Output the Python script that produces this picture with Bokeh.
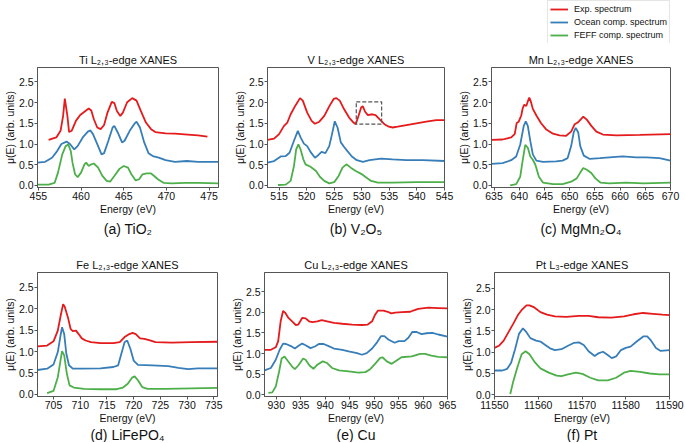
from bokeh.plotting import figure
from bokeh.layouts import column, row
from bokeh.models import Range1d, FixedTicker, PrintfTickFormatter, Title, Legend, LegendItem
from bokeh.embed import file_html
from bokeh.resources import INLINE

# ---------------- data ----------------
series_names = ["Exp. spectrum", "Ocean comp. spectrum", "FEFF comp. spectrum"]
series_colors = ["#e41a1c", "#377eb8", "#4daf4a"]
y_ticks = [0.0, 0.5, 1.0, 1.5, 2.0, 2.5]

titles = ["Ti L\u2082,\u2083-edge XANES", "V L\u2082,\u2083-edge XANES", "Mn L\u2082,\u2083-edge XANES",
          "Fe L\u2082,\u2083-edge XANES", "Cu L\u2082,\u2083-edge XANES", "Pt L\u2083-edge XANES"]
captions = ["(a) TiO\u2082", "(b) V\u2082O\u2085", "(c) MgMn\u2082O\u2084",
            "(d) LiFePO\u2084", "(e) Cu", "(f) Pt"]

ti_ticks = [455, 460, 465, 470, 475]
v_ticks = [515, 520, 525, 530, 535, 540, 545]
mn_ticks = [635, 640, 645, 650, 655, 660, 665, 670]
fe_ticks = [705, 710, 715, 720, 725, 730, 735]
cu_ticks = [930, 935, 940, 945, 950, 955, 960, 965]
pt_ticks = [11550, 11560, 11570, 11580, 11590]

ti_xlim = [454.9, 476.1]
v_xlim = [512.9, 545.0]
mn_xlim = [634.5, 670.0]
fe_xlim = [702.0, 735.7]
cu_xlim = [927.6, 965.0]
pt_xlim = [11550.0, 11590.0]
ylim_abc = [-0.05, 2.85]
ylim_d = [-0.05, 2.85]
ylim_e = [-0.04, 2.96]
ylim_f = [-0.04, 2.87]

# Ti
ti_exp_x = [456.2,457.1,457.6,457.9,458.1,458.4,458.6,458.9,459.4,459.9,460.4,460.9,461.2,461.5,461.9,462.3,462.7,463.1,463.6,463.9,464.2,464.6,464.9,465.4,466.0,466.5,467.0,467.6,468.2,468.7,469.9,471.0,472.5,473.7,474.8]
ti_exp_y = [1.10,1.16,1.32,1.68,2.10,1.68,1.29,1.32,1.56,1.70,1.78,1.86,1.81,1.60,1.40,1.36,1.46,1.76,2.02,1.99,1.80,1.68,1.76,2.01,2.11,2.05,1.80,1.52,1.36,1.29,1.26,1.25,1.23,1.21,1.18]
ti_ocean_x = [454.9,455.8,456.6,457.2,457.7,458.3,458.7,459.2,459.6,460.2,460.8,461.1,461.4,461.9,462.4,462.7,463.2,463.7,463.9,464.3,464.8,465.1,465.7,466.3,466.5,466.9,467.4,467.9,468.4,469.1,469.9,471.0,472.4,473.7,476.1]
ti_ocean_y = [0.55,0.57,0.67,0.83,1.00,1.06,1.00,0.87,0.95,1.16,1.30,1.33,1.24,1.00,0.75,0.78,1.08,1.40,1.44,1.28,1.04,1.08,1.32,1.50,1.54,1.40,1.04,0.78,0.71,0.67,0.61,0.57,0.59,0.57,0.57]
ti_feff_x = [454.9,456.2,456.9,457.3,457.8,458.2,458.5,458.8,459.0,459.3,459.6,460.0,460.4,460.6,460.9,461.2,461.5,462.0,462.5,463.0,463.4,463.9,464.5,465.0,465.5,465.9,466.4,466.8,467.2,467.7,468.2,468.5,469.0,469.7,470.6,472.2,473.7,476.1]
ti_feff_y = [0.02,0.02,0.06,0.31,0.75,0.95,0.99,0.83,0.55,0.27,0.20,0.31,0.51,0.55,0.47,0.51,0.53,0.43,0.23,0.11,0.09,0.23,0.40,0.47,0.43,0.27,0.12,0.15,0.27,0.29,0.29,0.24,0.15,0.06,0.05,0.06,0.06,0.05]

# V
v_exp_x = [512.9,514.1,515.0,515.9,516.5,517.1,518.0,518.8,519.3,520.1,520.9,521.5,522.3,523.2,524.1,524.9,525.4,526.0,526.8,527.7,528.5,528.9,529.4,529.9,530.2,530.6,531.1,531.9,532.5,533.2,534.1,534.9,535.6,536.5,538.1,539.9,541.7,543.5,545.0]
v_exp_y = [1.10,1.13,1.24,1.44,1.52,1.72,1.94,2.11,2.05,1.76,1.56,1.49,1.54,1.68,1.91,2.09,2.11,2.05,1.84,1.64,1.52,1.48,1.68,1.89,1.91,1.78,1.70,1.72,1.70,1.60,1.48,1.42,1.40,1.42,1.46,1.50,1.54,1.58,1.58]
v_ocean_x = [512.9,514.1,515.3,516.2,516.9,517.7,518.4,518.9,519.5,520.1,520.7,521.5,522.1,522.7,523.4,524.1,524.6,525.1,525.6,526.2,526.8,527.4,528.2,529.1,530.2,531.4,533.5,535.6,538.1,541.1,545.0]
v_ocean_y = [0.55,0.59,0.70,0.71,0.79,1.08,1.32,1.16,1.01,0.95,0.81,0.67,0.73,0.81,0.78,0.95,1.24,1.55,1.40,1.04,0.93,0.83,0.70,0.61,0.57,0.61,0.65,0.63,0.61,0.61,0.59]
v_feff_x = [514.8,516.2,517.1,517.7,518.1,518.5,518.9,519.4,519.8,520.7,521.7,522.4,523.2,524.1,525.0,525.8,526.5,527.2,528.0,528.9,529.9,530.8,531.7,532.9,535.6,539.9,545.0]
v_feff_y = [0.01,0.02,0.11,0.47,0.87,0.99,0.87,0.63,0.51,0.45,0.35,0.21,0.11,0.05,0.08,0.23,0.43,0.51,0.43,0.35,0.28,0.19,0.11,0.07,0.07,0.08,0.08]
v_box_x = [529.0, 533.6]
v_box_y = [1.48, 2.02]

# Mn
mn_exp_x = [634.5,636.7,638.4,639.1,639.5,639.9,640.4,640.7,641.0,641.4,641.7,642.0,642.3,642.7,643.4,644.3,645.3,646.7,648.0,649.3,650.3,651.0,651.6,652.3,652.7,653.4,654.3,655.3,656.6,659.3,663.9,670.0]
mn_exp_y = [1.10,1.11,1.16,1.24,1.51,1.54,1.69,1.87,1.95,1.92,2.03,2.12,2.03,1.85,1.69,1.51,1.36,1.25,1.21,1.20,1.30,1.48,1.52,1.61,1.66,1.59,1.44,1.30,1.23,1.21,1.22,1.24]
mn_ocean_x = [634.5,636.7,638.4,639.4,640.2,640.9,641.3,641.7,642.2,642.7,643.4,644.7,647.3,648.6,649.6,650.3,650.8,651.2,651.7,652.1,652.8,654.0,656.0,657.9,660.5,663.2,665.2,667.8,670.0]
mn_ocean_y = [0.52,0.54,0.61,0.70,0.99,1.44,1.55,1.44,1.07,0.75,0.60,0.57,0.58,0.60,0.66,0.95,1.28,1.39,1.28,0.95,0.72,0.64,0.66,0.68,0.70,0.68,0.68,0.66,0.60]
mn_feff_x = [638.2,639.4,640.2,640.7,641.2,641.7,642.2,642.7,643.2,643.9,644.7,646.7,648.6,650.3,651.4,652.1,652.7,653.4,654.3,655.1,656.1,657.9,661.2,664.6,670.0]
mn_feff_y = [0.00,0.03,0.21,0.62,0.98,0.91,0.70,0.62,0.50,0.21,0.07,0.03,0.03,0.09,0.17,0.31,0.42,0.38,0.30,0.17,0.07,0.05,0.07,0.05,0.07]

# Fe
fe_exp_x = [702.0,703.8,705.0,705.8,706.4,706.8,707.1,707.4,707.7,708.2,708.6,709.2,709.7,710.3,711.0,712.0,713.8,716.2,717.4,718.3,719.2,719.8,720.4,721.2,722.0,722.9,724.1,727.1,730.8,735.7]
fe_exp_y = [1.12,1.14,1.24,1.49,1.88,2.11,2.05,1.92,1.80,1.53,1.48,1.49,1.41,1.31,1.26,1.22,1.20,1.20,1.22,1.34,1.41,1.44,1.41,1.31,1.30,1.27,1.22,1.21,1.22,1.23]
fe_ocean_x = [702.0,703.8,705.0,705.8,706.3,706.6,707.0,707.4,707.9,708.6,710.1,713.8,716.2,717.1,717.7,718.3,718.8,719.4,720.0,720.8,723.5,726.5,728.4,730.2,732.0,735.7]
fe_ocean_y = [0.57,0.60,0.70,0.99,1.37,1.57,1.41,0.95,0.68,0.60,0.60,0.61,0.64,0.68,0.95,1.22,1.26,1.06,0.79,0.69,0.68,0.66,0.62,0.59,0.61,0.61]
fe_feff_x = [703.8,705.0,705.8,706.3,706.6,707.0,707.5,708.0,708.8,710.7,713.8,716.8,718.0,718.9,719.7,720.2,720.8,721.6,722.6,725.9,730.8,735.7]
fe_feff_y = [0.03,0.08,0.40,0.79,1.01,0.91,0.48,0.21,0.16,0.13,0.12,0.12,0.16,0.25,0.39,0.42,0.33,0.17,0.13,0.13,0.14,0.15]

# Cu
cu_exp_x = [927.6,928.9,929.9,930.4,930.9,931.4,931.8,932.5,933.3,934.0,934.5,935.0,935.3,936.0,936.7,937.4,938.4,939.3,940.4,941.8,943.5,945.5,947.5,948.7,949.6,950.2,950.8,951.9,952.8,953.5,954.3,955.7,957.4,958.0,959.0,961.1,963.1,965.0]
cu_exp_y = [1.09,1.09,1.15,1.30,1.78,2.03,1.99,1.86,1.77,1.69,1.70,1.80,1.86,1.85,1.78,1.76,1.78,1.81,1.78,1.74,1.72,1.70,1.69,1.70,1.78,1.94,2.04,2.04,2.01,1.97,1.99,2.00,2.01,2.04,2.08,2.11,2.10,2.09]
cu_ocean_x = [927.6,928.9,929.9,930.7,931.4,932.0,933.0,933.8,934.5,935.3,936.0,937.0,937.9,938.7,939.7,940.7,941.8,943.5,944.8,946.5,947.5,948.5,949.6,950.6,951.4,952.1,952.9,954.2,955.0,956.2,957.0,957.8,958.7,959.7,960.7,961.9,963.1,965.0]
cu_ocean_y = [0.59,0.65,0.85,1.09,1.24,1.23,1.18,1.12,1.18,1.24,1.20,1.13,1.17,1.23,1.23,1.18,1.12,1.09,1.05,1.01,0.97,1.01,1.12,1.27,1.42,1.42,1.34,1.26,1.30,1.30,1.38,1.52,1.52,1.47,1.49,1.50,1.46,1.41]
cu_feff_x = [928.4,929.2,929.9,930.6,931.1,931.7,932.3,933.2,933.8,934.5,935.5,936.0,936.8,937.6,938.4,939.5,940.4,941.4,942.8,944.8,946.8,948.2,949.2,950.2,951.2,951.7,952.6,953.6,954.6,955.6,957.7,959.4,960.4,961.7,963.1,965.0]
cu_feff_y = [0.05,0.06,0.20,0.57,0.88,0.93,0.83,0.69,0.62,0.71,0.88,0.85,0.71,0.63,0.73,0.81,0.77,0.65,0.59,0.57,0.54,0.55,0.62,0.75,0.89,0.91,0.81,0.75,0.83,0.91,0.93,0.99,0.99,0.95,0.92,0.91]

# Pt
pt_exp_x = [11550.0,11551.0,11552.1,11553.2,11554.3,11555.4,11556.3,11557.3,11558.0,11559.1,11560.5,11562.0,11563.8,11566.4,11569.3,11571.5,11573.7,11576.7,11579.6,11581.8,11584.0,11586.2,11588.4,11590.0]
pt_exp_y = [1.10,1.15,1.27,1.47,1.67,1.88,2.00,2.10,2.10,2.05,1.94,1.88,1.84,1.83,1.85,1.85,1.82,1.81,1.84,1.89,1.92,1.90,1.88,1.87]
pt_ocean_x = [11550.0,11551.8,11552.9,11553.8,11554.7,11555.6,11556.5,11557.3,11558.2,11559.5,11560.5,11561.6,11562.7,11563.8,11565.3,11566.8,11568.2,11569.3,11570.4,11571.5,11572.9,11573.7,11574.8,11575.8,11576.8,11577.8,11578.9,11580.0,11581.1,11582.5,11584.0,11584.9,11585.8,11586.9,11588.0,11590.0]
pt_ocean_y = [0.57,0.57,0.61,0.75,1.07,1.43,1.56,1.47,1.33,1.27,1.25,1.17,1.09,1.05,1.07,1.15,1.22,1.23,1.17,1.02,0.91,0.97,1.01,0.94,0.86,0.90,1.05,1.10,1.13,1.25,1.37,1.37,1.27,1.10,1.03,1.05]
pt_feff_x = [11553.6,11554.3,11555.3,11556.2,11557.1,11558.0,11559.1,11560.5,11562.4,11564.2,11565.3,11566.8,11568.6,11570.1,11571.9,11573.7,11575.9,11577.8,11579.6,11581.1,11583.3,11585.5,11587.7,11590.0]
pt_feff_y = [0.02,0.32,0.67,0.95,1.02,0.95,0.78,0.62,0.52,0.45,0.44,0.48,0.52,0.49,0.40,0.34,0.34,0.40,0.52,0.56,0.54,0.50,0.48,0.48]

# ---------------- figure building ----------------
FONT = "Liberation Sans"
FRAME = "#555555"
LW = 1.8


def make_panel(idx, xlim, ylim, xticks, curves, width, height, left, right, top, bottom, cap_standoff):
    p = figure(width=width, height=height, x_range=Range1d(*xlim), y_range=Range1d(*ylim),
               output_backend="svg", toolbar_location=None, title=None,
               min_border_left=left, min_border_right=right,
               min_border_top=top, min_border_bottom=bottom)
    p.background_fill_color = "white"
    p.border_fill_color = "white"
    p.outline_line_color = FRAME
    p.outline_line_width = 1
    p.grid.visible = False
    for (xs, ys), color in zip(curves, series_colors):
        p.line(xs, ys, line_color=color, line_width=LW)
    for ax in (p.xaxis[0], p.yaxis[0]):
        ax.axis_line_color = FRAME
        ax.major_tick_line_color = FRAME
        ax.major_tick_out = 3
        ax.major_tick_in = 0
        ax.minor_tick_line_color = None
        ax.major_label_standoff = 1
        ax.axis_label_standoff = 0
        ax.major_label_text_font = FONT
        ax.major_label_text_font_size = "10.5px"
        ax.major_label_text_color = "#111111"
        ax.axis_label_text_font = FONT
        ax.axis_label_text_font_size = "10.5px"
        ax.axis_label_text_font_style = "normal"
        ax.axis_label_text_color = "#111111"
    p.xaxis.ticker = FixedTicker(ticks=xticks)
    p.yaxis.ticker = FixedTicker(ticks=y_ticks)
    p.yaxis.formatter = PrintfTickFormatter(format="%.1f")
    p.xaxis.axis_label = "Energy (eV)"
    p.yaxis.axis_label = "\u03bc(E) (arb. units)"
    p.add_layout(Title(text=titles[idx], align="center", text_font=FONT, text_font_size="11px",
                       text_font_style="normal", text_color="#111111", standoff=3), "above")
    p.add_layout(Title(text=captions[idx], align="center", text_font=FONT, text_font_size="14px",
                       text_font_style="normal", text_color="#111111", standoff=cap_standoff), "below")
    return p


H1, T1, B1 = 250, 67, 63
H2, T2, B2 = 192, 22, 46
LEG_H = 43

pa = make_panel(0, ti_xlim, ylim_abc, ti_ticks,
                [(ti_exp_x, ti_exp_y), (ti_ocean_x, ti_ocean_y), (ti_feff_x, ti_feff_y)],
                228, H1, 36, 10, T1, B1, 3)
pb = make_panel(1, v_xlim, ylim_abc, v_ticks,
                [(v_exp_x, v_exp_y), (v_ocean_x, v_ocean_y), (v_feff_x, v_feff_y)],
                226, H1, 39, 10, T1, B1, 3)
pb.quad(left=v_box_x[0], right=v_box_x[1], bottom=v_box_y[0], top=v_box_y[1],
        fill_color=None, line_color="#555555", line_dash="4 2", line_width=1.2)
pc = make_panel(2, mn_xlim, ylim_abc, mn_ticks,
                [(mn_exp_x, mn_exp_y), (mn_ocean_x, mn_ocean_y), (mn_feff_x, mn_feff_y)],
                230, H1 - LEG_H, 36, 14, T1 - LEG_H, B1, 3)

# legend strip above panel (c): hidden copies of the Mn series supply the legend glyphs
pl = figure(width=230, height=LEG_H, x_range=Range1d(*mn_xlim), y_range=Range1d(*ylim_abc),
            output_backend="svg", toolbar_location=None, title=None,
            min_border_left=36, min_border_right=14, min_border_top=0, min_border_bottom=0)
pl.axis.visible = False
pl.grid.visible = False
pl.outline_line_color = None
pl.background_fill_color = "white"
pl.border_fill_color = "white"
mn_series = [(mn_exp_x, mn_exp_y), (mn_ocean_x, mn_ocean_y), (mn_feff_x, mn_feff_y)]
leg_renderers = [pl.line(xs, ys, line_color=c, line_width=LW, visible=False)
                 for (xs, ys), c in zip(mn_series, series_colors)]
legend = Legend(items=[LegendItem(label=n, renderers=[r]) for n, r in zip(series_names, leg_renderers)],
                location="top_right", orientation="vertical", margin=0, padding=2, spacing=1,
                glyph_height=12, glyph_width=18, label_height=12, label_standoff=6,
                label_text_font=FONT, label_text_font_size="9px", label_text_color="#111111",
                border_line_color="#cccccc", border_line_width=1, background_fill_color="white",
                inactive_fill_alpha=0.0)
pl.add_layout(legend, "center")

pd_ = make_panel(3, fe_xlim, ylim_d, fe_ticks,
                 [(fe_exp_x, fe_exp_y), (fe_ocean_x, fe_ocean_y), (fe_feff_x, fe_feff_y)],
                 227, H2, 36, 10, T2, B2, -4)
pe = make_panel(4, cu_xlim, ylim_e, cu_ticks,
                [(cu_exp_x, cu_exp_y), (cu_ocean_x, cu_ocean_y), (cu_feff_x, cu_feff_y)],
                230, H2, 36, 10, T2, B2, -4)
pf = make_panel(5, pt_xlim, ylim_f, pt_ticks,
                [(pt_exp_x, pt_exp_y), (pt_ocean_x, pt_ocean_y), (pt_feff_x, pt_feff_y)],
                227, H2, 36, 15, T2, B2, -4)

layout = column(row(pa, pb, column(pl, pc)), row(pd_, pe, pf))
open("out.html", "w").write(file_html(layout, INLINE))
